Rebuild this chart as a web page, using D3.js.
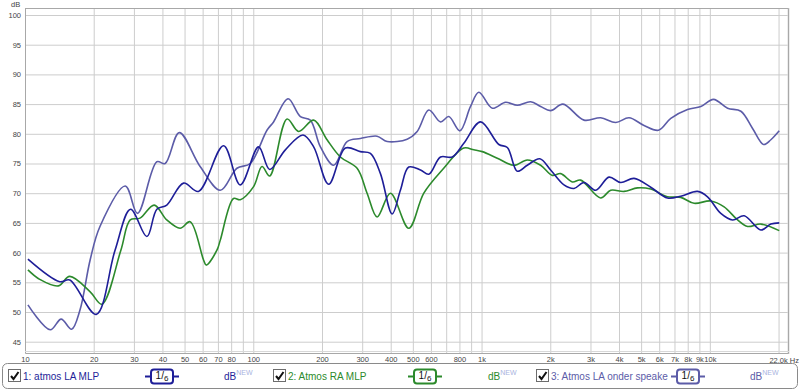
<!DOCTYPE html>
<html>
<head>
<meta charset="utf-8">
<script src="https://cdn.jsdelivr.net/npm/d3@7"></script>
<style>
  body { margin: 0; background: #fff; }
  svg { display: block; font-family: "Liberation Sans", Arial, sans-serif; }
</style>
</head>
<body>
<svg id="chart" width="800" height="390"></svg>
<script>
// grid + tick data
const freqGrid = [10, 20, 30, 40, 50, 60, 70, 80, 90, 100, 200, 300, 400, 500, 600, 700, 800, 900,
  1000, 2000, 3000, 4000, 5000, 6000, 7000, 8000, 9000, 10000, 20000];
const freqLabels = [10, 20, 30, 40, 50, 60, 70, 80, 100, 200, 300, 400, 500, 600, 800,
  1000, 2000, 3000, 4000, 5000, 6000, 7000, 8000, 9000, 10000];
const dbTicks = [45, 50, 55, 60, 65, 70, 75, 80, 85, 90, 95, 100];

// series 1: atmos LA MLP
const s1Freq = [10.3, 14.2, 15.7, 20.5, 24.8, 29, 34.2, 37.8, 41.8, 49.5, 57.5, 74.1, 87.7, 105.5, 118,
  138.2, 165.2, 183.9, 213.9, 253.2, 294.6, 326, 360.6, 405.9, 441, 479.8, 540, 587.4, 661, 743.8,
  836.3, 990, 1191, 1297, 1434, 1586, 1800, 2007, 2296, 2541, 2810, 3162, 3617, 4070, 4656, 5510,
  6523, 7461, 8831, 9770, 11170, 12580, 14140, 16740, 18510, 20140];
const s1Db = [58.9, 55.1, 55.4, 49.6, 60.4, 67.3, 62.7, 67.3, 68.0, 71.7, 70.3, 78.0, 71.4, 77.8, 74.0,
  77.3, 79.8, 77.8, 71.5, 77.6, 77.0, 76.7, 73.3, 66.5, 70.5, 74.4, 73.9, 73.2, 76.1, 76.1,
  78.4, 82.0, 78.2, 77.7, 73.7, 74.7, 75.8, 73.9, 71.4, 70.8, 71.8, 70.5, 72.7, 71.8, 72.5, 71.0,
  69.2, 69.5, 70.3, 69.4, 66.6, 65.5, 66.2, 63.8, 64.8, 65.0];

// series 2: Atmos RA MLP
const s2Freq = [10.3, 11.6, 14.0, 15.7, 19.3, 21.7, 26.3, 28.9, 31.9, 36.8, 41.8, 47.8, 52.9, 60.5, 62.2,
  69.3, 71.7, 81.9, 87.7, 100.3, 109.2, 118, 140.6, 158, 183.9, 210.5, 240.8, 285, 315.2, 348.7,
  399, 479.8, 558.5, 672.4, 836.3, 925, 1007, 1172, 1386, 1586, 1815, 2042, 2221, 2499, 2718, 3325,
  3680, 4208, 4818, 5510, 6523, 7461, 8535, 10100, 11550, 13230, 14640, 16740, 20140];
const s2Db = [57.1, 55.5, 54.4, 56.0, 53.4, 51.3, 60.4, 65.5, 65.8, 68.0, 65.5, 64.1, 65.2, 58.8, 57.9,
  60.4, 62.1, 69.1, 68.9, 71.1, 74.5, 72.9, 82.5, 80.4, 82.3, 79.0, 76.1, 74.2, 70.0, 66.0,
  70.0, 64.1, 70.0, 73.9, 77.6, 77.3, 77.0, 75.9, 74.7, 75.6, 74.7, 73.0, 73.3, 71.9, 72.2, 69.2,
  70.5, 70.3, 70.9, 70.7, 69.4, 69.3, 68.3, 68.7, 67.7, 65.5, 64.4, 64.8, 63.7];

// series 3: Atmos LA onder speaker
const s3Freq = [10.3, 12.9, 14.4, 16.0, 17.4, 19.3, 21.3, 27.5, 31.1, 37.8, 41.1, 47.4, 58.5, 71.7, 84.8,
  97, 114.8, 122.7, 142, 160.8, 177.8, 196.8, 225, 257.6, 294.6, 348.7, 385.9, 472, 522.4, 587.4,
  661, 718.8, 803, 894.8, 973, 1114, 1274, 1434, 1640, 1815, 2007, 2273, 2810, 3325, 3870, 4426,
  5149, 5957, 6745, 7986, 9131, 10380, 11960, 13680, 15390, 17200, 18510, 20140];
const s3Db = [51.2, 47.0, 48.8, 47.1, 50.3, 58.8, 64.4, 71.2, 66.6, 75.3, 75.0, 80.2, 74.5, 70.5, 74.2,
  75.0, 80.6, 82.0, 85.9, 82.9, 82.3, 77.8, 74.7, 78.7, 79.2, 79.6, 78.7, 79.1, 80.4, 84.0,
  82.0, 82.9, 80.5, 84.6, 87.0, 84.3, 85.3, 84.8, 85.4, 84.6, 83.9, 85.0, 82.3, 82.7, 81.9, 82.7,
  81.4, 80.6, 82.6, 84.1, 84.6, 85.8, 84.3, 83.8, 80.9, 78.2, 79.0, 80.5];

const seriesNames = ["1: atmos LA MLP", "2: Atmos RA MLP", "3: Atmos LA onder speake"];
const seriesColors = ["#1e1e98", "#2c8a2c", "#5c5ca8"];

const svg = d3.select("#chart");
const plot = { left: 25, right: 788, top: 8, bottom: 353 };

const x = d3.scaleLog().domain([10, 22000]).range([plot.left, plot.right]);
const y = d3.scaleLinear().domain([45, 100]).range([341.7, 15]);

svg.append("clipPath").attr("id", "clip")
  .append("rect")
  .attr("x", plot.left).attr("y", plot.top)
  .attr("width", plot.right - plot.left).attr("height", plot.bottom - plot.top);

// gridlines
const grid = svg.append("g");
grid.append("g")
  .attr("transform", `translate(0, ${plot.bottom})`)
  .call(d3.axisBottom(x).tickValues(freqGrid).tickSize(-(plot.bottom - plot.top)).tickFormat(""))
  .call((g) => g.select(".domain").remove());
grid.append("g")
  .attr("transform", `translate(${plot.left}, 0)`)
  .call(d3.axisLeft(y).tickValues(dbTicks).tickSize(-(plot.right - plot.left)).tickFormat(""))
  .call((g) => g.select(".domain").remove());
grid.selectAll("line").attr("stroke", "#cdcdcd").attr("stroke-width", 1);

// frame
svg.append("rect")
  .attr("x", plot.right - 0.5).attr("y", plot.top).attr("width", 2).attr("height", plot.bottom - plot.top + 1)
  .attr("fill", "#dcdcdc");
svg.append("path")
  .attr("d", `M${plot.left + 0.5},${plot.top} V${plot.bottom + 0.5} H${plot.right + 0.5} V${plot.top + 0.5} H${plot.left + 0.5}`)
  .attr("fill", "none").attr("stroke", "#a8a8a8");
svg.append("line")
  .attr("x1", plot.left).attr("x2", plot.right + 1)
  .attr("y1", plot.bottom - 1.5).attr("y2", plot.bottom - 1.5)
  .attr("stroke", "#d8d8d8");

// tick labels
const xLabels = svg.append("g")
  .attr("transform", `translate(0, ${plot.bottom})`)
  .call(d3.axisBottom(x).tickValues(freqLabels).tickSize(0).tickPadding(4)
    .tickFormat((d) => (d >= 1000 ? d / 1000 + "k" : d)));
xLabels.select(".domain").remove();
xLabels.selectAll("text").attr("font-size", 7.5).attr("fill", "#444")
  .attr("font-family", "'Liberation Sans', Arial, sans-serif");

svg.append("text")
  .attr("x", 799).attr("y", 363)
  .attr("text-anchor", "end").attr("font-size", 7.5).attr("fill", "#444")
  .text("22,0k Hz");

const yLabels = svg.append("g")
  .attr("transform", `translate(${plot.left}, 0)`)
  .call(d3.axisLeft(y).tickValues(dbTicks).tickSize(0).tickPadding(4));
yLabels.select(".domain").remove();
yLabels.selectAll("text").attr("font-size", 7.5).attr("fill", "#444")
  .attr("font-family", "'Liberation Sans', Arial, sans-serif");

svg.append("text")
  .attr("x", 11).attr("y", 7)
  .attr("font-size", 7.5).attr("fill", "#444")
  .text("dB");

// curves
const line = d3.line()
  .x((d) => x(d[0]))
  .y((d) => y(d[1]))
  .curve(d3.curveCatmullRom.alpha(0.5));

const series = [
  d3.zip(s1Freq, s1Db),
  d3.zip(s2Freq, s2Db),
  d3.zip(s3Freq, s3Db)
];

const curves = svg.append("g").attr("clip-path", "url(#clip)");
[2, 1, 0].forEach((i) => {
  curves.append("path")
    .datum(series[i])
    .attr("fill", "none")
    .attr("stroke", seriesColors[i])
    .attr("stroke-width", 1.6)
    .attr("stroke-linejoin", "round")
    .attr("d", line);
});

// legend bar
const legend = svg.append("g");
legend.append("rect")
  .attr("x", 2.5).attr("y", 363.5).attr("width", 795).attr("height", 25).attr("rx", 5)
  .attr("fill", "#fff").attr("stroke", "#8a8a8a");

const legendPos = [
  { box: 8, label: 23, badge: 162, db: 224 },
  { box: 273, label: 288, badge: 425, db: 488 },
  { box: 536, label: 551, badge: 688, db: 750 }
];

legendPos.forEach((p, i) => {
  const g = legend.append("g");
  const cy = 376;
  g.append("rect")
    .attr("x", p.box + 0.5).attr("y", cy - 6.5).attr("width", 12).attr("height", 12)
    .attr("fill", "#fff").attr("stroke", "#6d6d6d");
  g.append("path")
    .attr("d", `M${p.box + 3},${cy} L${p.box + 5.5},${cy + 3} L${p.box + 10.5},${cy - 4}`)
    .attr("fill", "none").attr("stroke", "#111").attr("stroke-width", 2);
  g.append("text")
    .attr("x", p.label).attr("y", cy + 4)
    .attr("font-size", 10).attr("fill", seriesColors[i])
    .text(seriesNames[i]);

  // smoothing badge
  g.append("line")
    .attr("x1", p.badge - 17).attr("x2", p.badge + 17)
    .attr("y1", cy + 0.5).attr("y2", cy + 0.5)
    .attr("stroke", seriesColors[i]).attr("stroke-width", 2);
  g.append("rect")
    .attr("x", p.badge - 11).attr("y", cy - 6.5).attr("width", 22).attr("height", 14).attr("rx", 3)
    .attr("fill", "#fff").attr("stroke", seriesColors[i]).attr("stroke-width", 2);
  const frac = g.append("text")
    .attr("x", p.badge).attr("y", cy + 4)
    .attr("text-anchor", "middle").attr("font-size", 10).attr("fill", "#111");
  frac.append("tspan").attr("dy", -1).text("1");
  frac.append("tspan").text("/");
  frac.append("tspan").attr("dy", 2).attr("font-size", 8).text("6");

  const db = g.append("text")
    .attr("x", p.db).attr("y", cy + 4)
    .attr("font-size", 10).attr("fill", seriesColors[i]);
  db.append("tspan").text("dB");
  db.append("tspan").attr("dy", -5).attr("font-size", 7).attr("fill", "#a9b3e0").text("NEW");
});
</script>
</body>
</html>
